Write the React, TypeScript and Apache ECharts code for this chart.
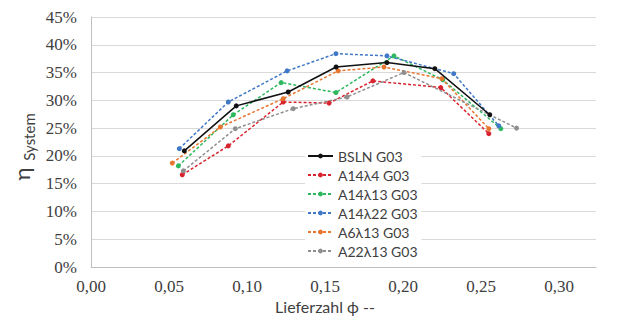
import React, { useEffect, useRef } from "react";
import * as echarts from "echarts";

const seriesNames = ["BSLN G03", "A14λ4 G03", "A14λ13 G03", "A14λ22 G03", "A6λ13 G03", "A22λ13 G03"];

const bslnX = [0.0598, 0.0931, 0.1264, 0.1571, 0.1897, 0.2204, 0.2556];
const bslnY = [0.209, 0.290, 0.315, 0.360, 0.368, 0.357, 0.274];

const a14l4X = [0.0585, 0.0880, 0.1232, 0.1526, 0.1807, 0.2242, 0.2550];
const a14l4Y = [0.166, 0.218, 0.297, 0.295, 0.335, 0.323, 0.240];

const a14l13X = [0.0560, 0.0912, 0.1219, 0.1570, 0.1942, 0.2255, 0.2627];
const a14l13Y = [0.182, 0.274, 0.332, 0.314, 0.380, 0.337, 0.249];

const a14l22X = [0.0566, 0.0880, 0.1257, 0.1570, 0.1897, 0.2325, 0.2614];
const a14l22Y = [0.213, 0.297, 0.353, 0.384, 0.380, 0.348, 0.254];

const a6l13X = [0.0521, 0.0829, 0.1232, 0.1584, 0.1878, 0.2249, 0.2550];
const a6l13Y = [0.187, 0.252, 0.303, 0.353, 0.360, 0.339, 0.249];

const a22l13X = [0.0592, 0.0925, 0.1296, 0.1641, 0.2006, 0.2728];
const a22l13Y = [0.173, 0.249, 0.285, 0.306, 0.350, 0.250];

const xTickLabels = ["0,00", "0,05", "0,10", "0,15", "0,20", "0,25", "0,30"];
const yTickLabels = ["0%", "5%", "10%", "15%", "20%", "25%", "30%", "35%", "40%", "45%"];

const colors = ["#111111", "#d9232e", "#2db85f", "#3f78c6", "#e8762f", "#8e8e8e"];

const zip = (xs: number[], ys: number[]) => xs.map((x, i) => [x, ys[i]]);

export default function App() {
  const ref = useRef<HTMLDivElement>(null);
  useEffect(() => {
    if (!ref.current) return;
    const chart = echarts.init(ref.current, null, { renderer: "svg" });
    const allX = [bslnX, a14l4X, a14l13X, a14l22X, a6l13X, a22l13X];
    const allY = [bslnY, a14l4Y, a14l13Y, a14l22Y, a6l13Y, a22l13Y];
    const sansFont = "Lato, 'DejaVu Sans', sans-serif";
    const serifFont = "'Liberation Serif', serif";
    chart.setOption({
      animation: false,
      backgroundColor: "#ffffff",
      grid: { left: 91, right: 26, top: 17, bottom: 55 },
      xAxis: {
        type: "value",
        min: 0,
        max: 0.3237,
        interval: 0.05,
        axisLine: { show: true, lineStyle: { color: "#bfbfbf", width: 1 } },
        axisTick: { show: false },
        splitLine: { show: false },
        axisLabel: {
          showMaxLabel: false,
          margin: 11,
          color: "#404040",
          fontFamily: serifFont,
          fontSize: 17,
          formatter: (v: number) => xTickLabels[Math.round(v / 0.05)] ?? "",
        },
      },
      yAxis: {
        type: "value",
        min: 0,
        max: 0.45,
        interval: 0.05,
        axisLine: { show: true, lineStyle: { color: "#bfbfbf", width: 1 } },
        axisTick: { show: false },
        splitLine: { show: true, lineStyle: { color: "#d9d9d9", width: 1 } },
        axisLabel: {
          margin: 14,
          color: "#404040",
          fontFamily: serifFont,
          fontSize: 17,
          formatter: (v: number) => yTickLabels[Math.round(v / 0.05)] ?? "",
        },
      },
      legend: {
        orient: "vertical",
        left: 305,
        top: 147,
        padding: [2, 4, 2, 2],
        itemGap: 5,
        itemWidth: 25,
        itemHeight: 6,
        backgroundColor: "#ffffff",
        data: seriesNames,
        textStyle: { fontFamily: sansFont, fontSize: 14, lineHeight: 14, color: "#404040" },
      },
      graphic: [
        {
          type: "text",
          x: 325,
          y: 306,
          style: {
            text: "Lieferzahl ϕ --",
            fontFamily: sansFont,
            fontSize: 16,
            fill: "#404040",
            align: "center",
            verticalAlign: "middle",
          },
        },
        {
          type: "text",
          x: 21,
          y: 174,
          rotation: Math.PI / 2,
          style: {
            text: "η",
            fontFamily: sansFont,
            fontSize: 22,
            fill: "#404040",
            align: "center",
            verticalAlign: "middle",
          },
        },
        {
          type: "text",
          x: 29,
          y: 137,
          rotation: Math.PI / 2,
          style: {
            text: "System",
            fontFamily: sansFont,
            fontSize: 15,
            fill: "#404040",
            align: "center",
            verticalAlign: "middle",
          },
        },
      ],
      series: seriesNames.map((name, i) => ({
        name,
        type: "line",
        data: zip(allX[i], allY[i]),
        symbol: "circle",
        symbolSize: 5,
        itemStyle: { color: colors[i] },
        lineStyle: { color: colors[i], width: 1.5, type: i === 0 ? "solid" : [3, 2] },
        z: i === 0 ? 3 : 2,
      })),
    });
    return () => chart.dispose();
  }, []);
  return <div ref={ref} style={{ position: "fixed", left: 0, top: 0, width: 622, height: 322 }} />;
}
